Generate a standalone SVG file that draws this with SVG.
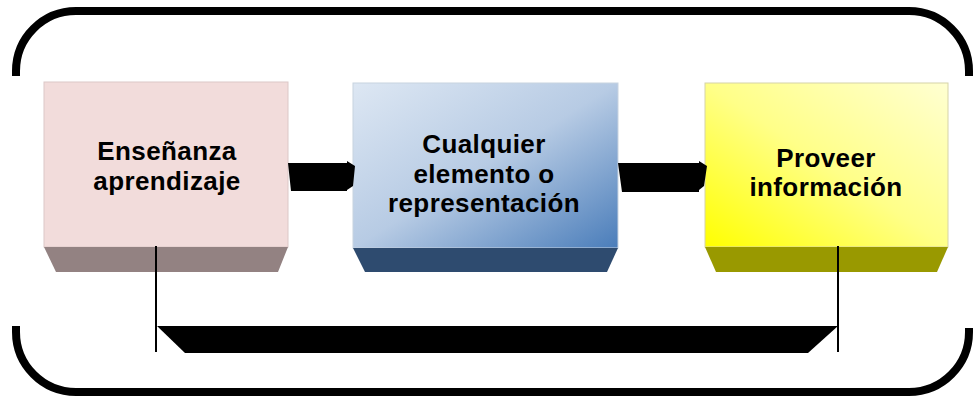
<svg xmlns="http://www.w3.org/2000/svg" width="974" height="399" viewBox="0 0 974 399">
<defs>
<linearGradient id="gBlue" x1="0" y1="0" x2="1" y2="1">
<stop offset="0" stop-color="#DDE7F3"/>
<stop offset="0.5" stop-color="#B7CBE4"/>
<stop offset="1" stop-color="#4A7DBA"/>
</linearGradient>
<linearGradient id="gYellow" x1="0" y1="1" x2="1" y2="0">
<stop offset="0" stop-color="#FFFF00"/>
<stop offset="0.5" stop-color="#FFFF88"/>
<stop offset="1" stop-color="#FFFFD2"/>
</linearGradient>
<style>
.frame{fill:none;stroke:#000;stroke-width:8}
.lbl{font-family:"Liberation Sans",Arial,sans-serif;font-weight:bold;font-size:26px;fill:#000;text-anchor:middle;letter-spacing:0.4px}
.vline{stroke:#000;stroke-width:2;fill:none}
.arrow{fill:#000}
</style>
</defs>
<rect width="974" height="399" fill="#fff"/>
<g id="frame">
<path class="frame" d="M16,76 L16,71 A60,60 0 0 1 76,11 L909,11 A60,60 0 0 1 969,71 L969,76"/>
<path class="frame" d="M16,326 L16,332 A60,60 0 0 0 76,392 L909,392 A60,60 0 0 0 969,332 L969,328"/>
</g>
<g id="node1">
<rect x="44" y="82" width="244" height="165" fill="#F2DCDB" stroke="#DCC8C7" stroke-width="1"/>
<polygon points="44,247 288,247 278,272 56,272" fill="#938282"/>
<text class="lbl" x="167" y="160">Enseñanza</text>
<text class="lbl" x="167" y="190">aprendizaje</text>
</g>
<g id="node2">
<rect x="353" y="83" width="265" height="165" fill="url(#gBlue)" stroke="#C8D3E0" stroke-width="1"/>
<polygon points="353,248 618,248 607,272 365,272" fill="#2E4B6F"/>
<text class="lbl" x="484" y="153">Cualquier</text>
<text class="lbl" x="484" y="183">elemento o</text>
<text class="lbl" x="484" y="212">representación</text>
</g>
<g id="node3">
<rect x="705" y="83" width="243" height="164" fill="url(#gYellow)" stroke="#D6D3A8" stroke-width="1"/>
<polygon points="705,247 948,247 937,272 716,272" fill="#999900"/>
<text class="lbl" x="826" y="167">Proveer</text>
<text class="lbl" x="826" y="196">información</text>
</g>
<g id="connectors">
<polygon class="arrow" points="288,163 347,163 347,161 355,166 353,186 347,190 347,191 291,191"/>
<polygon class="arrow" points="618,163 699,163 699,161 707,166 704,186 699,190 699,192 622,192"/>
<line class="vline" x1="156" y1="246" x2="156" y2="352"/>
<line class="vline" x1="838" y1="246" x2="838" y2="352"/>
<polygon class="arrow" points="157,326 838,326 808,353 185,353"/>
</g>
</svg>
